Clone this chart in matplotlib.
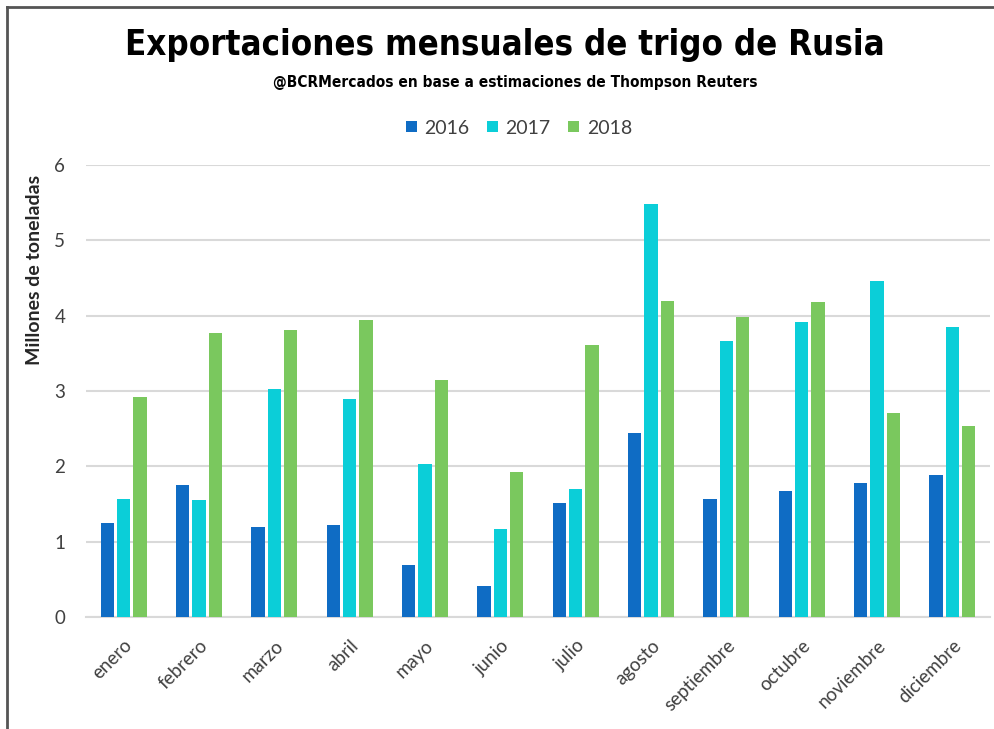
import matplotlib
matplotlib.use("Agg")
import matplotlib.pyplot as plt
from matplotlib import font_manager as fm
from matplotlib.lines import Line2D
import numpy as np

meses = ["enero", "febrero", "marzo", "abril", "mayo", "junio", "julio",
         "agosto", "septiembre", "octubre", "noviembre", "diciembre"]
anios = ["2016", "2017", "2018"]
exp_2016 = [1.25, 1.76, 1.20, 1.23, 0.69, 0.41, 1.51, 2.44, 1.57, 1.67, 1.78, 1.89]
exp_2017 = [1.57, 1.55, 3.02, 2.89, 2.03, 1.17, 1.70, 5.48, 3.66, 3.92, 4.46, 3.85]
exp_2018 = [2.92, 3.77, 3.81, 3.94, 3.14, 1.92, 3.61, 4.19, 3.98, 4.18, 2.71, 2.54]
colores = ["#0F6CC4", "#0BCED8", "#7AC85E"]

# pick a condensed bold face for the headline if the system has one
installed = fm.fontManager.ttflist
names = {f.name for f in installed}
cond = None
for fam in ["Liberation Sans Narrow", "DejaVu Sans Condensed"]:
    if fam in names:
        cond = dict(family=fam)
        break
if cond is None and any(f.name == "DejaVu Sans" and "condensed" in str(f.stretch) for f in installed):
    cond = dict(family="DejaVu Sans", stretch="condensed")
if cond is None:
    cond = dict(family="DejaVu Sans")

body = "Lato" if "Lato" in names else "DejaVu Sans"
tick_col = "#404040"

fig = plt.figure(figsize=(9.95, 7.29), dpi=100)
ax = fig.add_axes([86 / 995, 1 - 617.3 / 729, 904 / 995, 452.6 / 729])

x = np.arange(len(meses))
w = 0.177
step = 0.219
for i, vals in enumerate([exp_2016, exp_2017, exp_2018]):
    ax.bar(x + (i - 1) * step, vals, width=w, color=colores[i], label=anios[i], zorder=3)

ax.set_xlim(-0.5, len(meses) - 0.5)
ax.set_ylim(0, 6)
ax.set_yticks(range(0, 7))
ax.yaxis.grid(True, color="#D9D9D9", linewidth=1.5, zorder=0)
for s in ["top", "right", "left"]:
    ax.spines[s].set_visible(False)
ax.spines["bottom"].set_color("#D9D9D9")
ax.spines["bottom"].set_linewidth(1.5)
ax.tick_params(axis="both", length=0, labelcolor=tick_col)
ax.tick_params(axis="y", pad=15, labelsize=13.5)
ax.set_xticks(x)
ax.set_xticklabels(meses, rotation=45, ha="right", va="top", rotation_mode="anchor",
                   family=body, fontsize=13.5)
for lab in ax.get_yticklabels():
    lab.set_family(body)
ax.tick_params(axis="x", pad=14)

fig.text(35 / 995, 1 - 270 / 729, "Millones de toneladas", rotation=90, ha="center", va="center",
         fontsize=14, fontweight="bold", color="#262626", family=body)

title = fig.text(505 / 995, 1 - 45 / 729, "Exportaciones mensuales de trigo de Rusia",
                 ha="center", va="center", fontsize=34, fontweight="bold", color="black", **cond)
sub = fig.text(515 / 995, 1 - 83 / 729, "@BCRMercados en base a estimaciones de Thompson Reuters",
               ha="center", va="center", fontsize=11, fontweight="bold", color="black", **cond)

# squeeze the headline sizes so they span the same width as the original
r = fig.canvas.get_renderer()
for t, target in [(title, 760), (sub, 485)]:
    wpx = t.get_window_extent(renderer=r).width
    t.set_fontsize(t.get_fontsize() * target / wpx)

fig.legend(loc="center", bbox_to_anchor=(519 / 995, 1 - 128 / 729), ncol=3, frameon=False,
           handlelength=0.55, handleheight=0.55, handletextpad=0.4, columnspacing=0.9,
           prop=dict(family=body, size=14), labelcolor=tick_col)

# grey frame on the top and left edges
fig.add_artist(Line2D([7 / 995, 1], [1 - 7 / 729] * 2, transform=fig.transFigure, color="#555555", lw=2))
fig.add_artist(Line2D([7 / 995] * 2, [0, 1 - 7 / 729], transform=fig.transFigure, color="#555555", lw=2))

fig.savefig("out.png", dpi=100)
